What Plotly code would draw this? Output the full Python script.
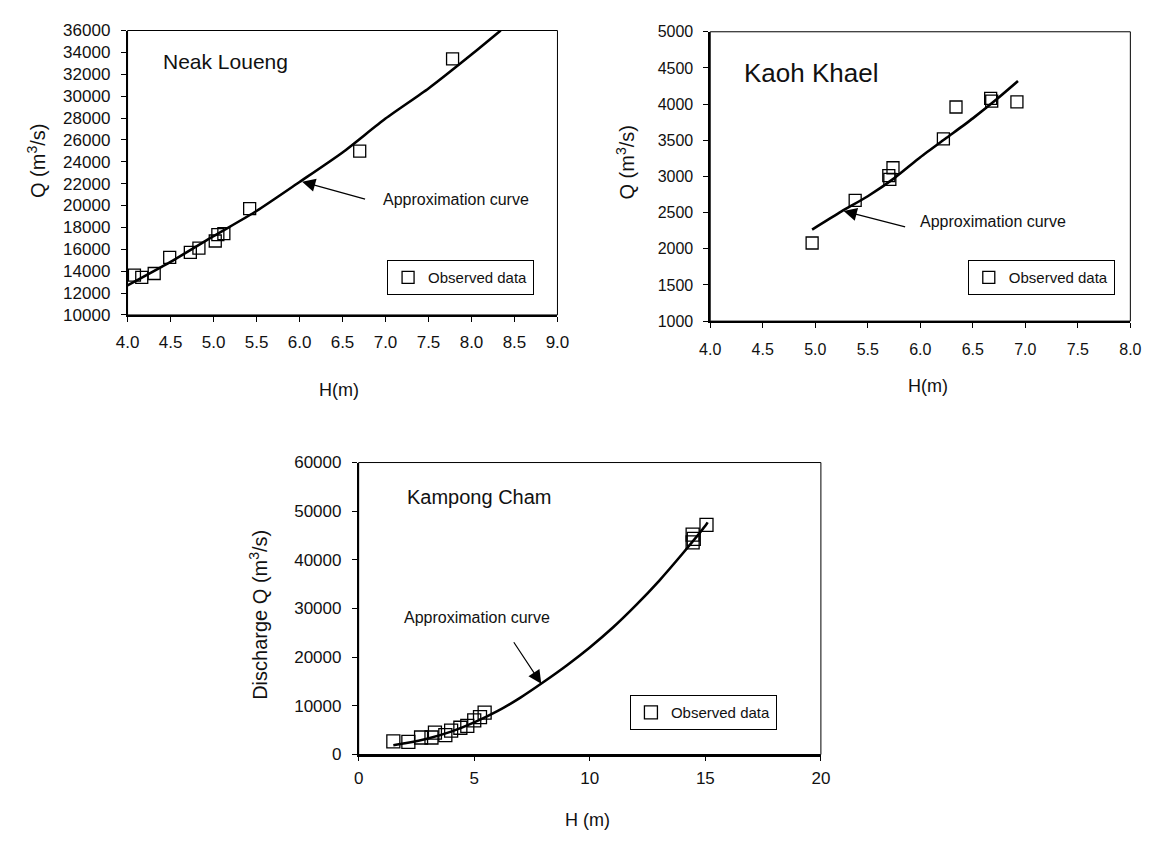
import plotly.graph_objects as go

W, H = 1159, 843

# ---------------- data ----------------
# Neak Loueng
nl_obs_h = [4.08, 4.165, 4.31, 4.49, 4.73, 4.83, 5.02, 5.05, 5.12, 5.42, 6.70, 7.78]
nl_obs_q = [13640, 13440, 13790, 15270, 15720, 16100, 16760, 17350, 17440, 19710, 24980, 33400]
nl_fit_h = [4.0, 4.5, 5.0, 5.5, 6.0, 6.5, 7.0, 7.5, 8.0, 8.34]
nl_fit_q = [12700, 14850, 17200, 19500, 22150, 24850, 27950, 30700, 33800, 36000]

# Kaoh Khael
kk_obs_h = [4.97, 5.38, 5.70, 5.71, 5.74, 6.22, 6.34, 6.67, 6.68, 6.92]
kk_obs_q = [2080, 2670, 3010, 2960, 3120, 3520, 3960, 4080, 4040, 4030]
kk_fit_h = [4.97, 5.25, 5.5, 5.75, 6.0, 6.25, 6.5, 6.75, 6.93]
kk_fit_q = [2265, 2516, 2726, 2973, 3265, 3534, 3803, 4094, 4318]

# Kampong Cham
kc_obs_h = [1.5, 2.15, 2.7, 3.15, 3.3, 3.75, 4.0, 4.4, 4.7, 5.0, 5.25, 5.45, 14.45, 14.45, 14.5, 15.05]
kc_obs_q = [2700, 2600, 3500, 3500, 4500, 4000, 4900, 5500, 5900, 7000, 7700, 8600, 45200, 43600, 44300, 47200]
kc_fit_h = [1.5, 2, 3, 4, 5, 6, 7, 8, 9, 10, 11, 12, 13, 14, 15, 15.1]
kc_fit_q = [1900, 2300, 3300, 4700, 6600, 8900, 11700, 14900, 18300, 22000, 26100, 30700, 35700, 41200, 47000, 47700]

legend_label = "Observed data"
curve_label = "Approximation curve"

# ---------------- figure ----------------
def px_x(p):
    return p / W

def px_y(p):
    return 1 - p / H

TXT = "#111111"
FONT = "Liberation Sans"

fig = go.Figure()

def add_panel(oh, oq, fh, fq, xa, ya, leg, msize):
    fig.add_trace(go.Scatter(x=fh, y=fq, mode="lines", xaxis=xa, yaxis=ya,
                             line=dict(color="black", width=2.6, shape="spline", smoothing=0.6),
                             showlegend=False, hoverinfo="skip"))
    fig.add_trace(go.Scatter(x=oh, y=oq, mode="markers", xaxis=xa, yaxis=ya,
                             name=legend_label, legend=leg,
                             marker=dict(symbol="square-open", size=msize,
                                         color="black", line=dict(width=1.3, color="black"))))

add_panel(nl_obs_h, nl_obs_q, nl_fit_h, nl_fit_q, "x", "y", "legend", 12)
add_panel(kk_obs_h, kk_obs_q, kk_fit_h, kk_fit_q, "x2", "y2", "legend2", 12)
add_panel(kc_obs_h, kc_obs_q, kc_fit_h, kc_fit_q, "x3", "y3", "legend3", 13)

def axis(dom, rng, dtick, fmt, anchor, size, standoff):
    return dict(domain=dom, range=rng, dtick=dtick, tick0=rng[0], tickformat=fmt,
                anchor=anchor, showgrid=False, zeroline=False,
                showline=True, linecolor="black", linewidth=1.6,
                ticks="outside", ticklen=5, tickcolor="black", tickwidth=1,
                ticklabelstandoff=standoff,
                tickfont=dict(family=FONT, size=size, color=TXT))

fig.update_layout(
    width=W, height=H,
    margin=dict(l=0, r=0, t=0, b=0),
    paper_bgcolor="white", plot_bgcolor="white",
    xaxis=axis([px_x(118), px_x(557)], [4, 9], 0.5, ".1f", "y", 17, 6),
    yaxis=axis([px_y(313), px_y(22)], [10000, 36000], 2000, "d", "x", 17, 7),
    xaxis2=axis([px_x(713), px_x(1142)], [4, 8], 0.5, ".1f", "y2", 16, 8),
    yaxis2=axis([px_y(319.3), px_y(23.3)], [1000, 5000], 500, "d", "x2", 16, 7),
    xaxis3=axis([px_x(354), px_x(826)], [0, 20], 5, "d", "y3", 17, 2),
    yaxis3=axis([px_y(762.7), px_y(464)], [0, 60000], 10000, "d", "x3", 17, 7),
)

def legend_cfg(x, y):
    return dict(x=px_x(x), y=px_y(y), xanchor="left", yanchor="top",
                bordercolor="black", borderwidth=1, bgcolor="white",
                font=dict(family=FONT, size=15, color=TXT), itemwidth=30,
                tracegroupgap=0)

fig.update_layout(legend=legend_cfg(383, 257),
                  legend2=legend_cfg(976, 257),
                  legend3=legend_cfg(631, 702))

# thin box around each plot area
for xr, yr in [("x", "y"), ("x2", "y2"), ("x3", "y3")]:
    fig.add_shape(type="rect", xref=f"{xr} domain", yref=f"{yr} domain",
                  x0=0, x1=1, y0=0, y1=1, line=dict(color="black", width=1), layer="above")

ann = []
# panel titles
ann.append(dict(x=4.39, y=33170, xref="x", yref="y", text="Neak Loueng", showarrow=False,
                xanchor="left", yanchor="middle", font=dict(family=FONT, size=21, color=TXT)))
ann.append(dict(x=4.30, y=4430, xref="x2", yref="y2", text="Kaoh Khael", showarrow=False,
                xanchor="left", yanchor="middle", font=dict(family=FONT, size=26, color=TXT)))
ann.append(dict(x=2.02, y=52970, xref="x3", yref="y3", text="Kampong Cham", showarrow=False,
                xanchor="left", yanchor="middle", font=dict(family=FONT, size=20, color=TXT)))

# arrows
arrow_style = dict(showarrow=True, arrowhead=2, arrowsize=2.2, arrowwidth=1.2,
                   arrowcolor="black", text="")
ann.append(dict(x=6.03, y=22180, ax=6.78, ay=20545, xref="x", yref="y",
                axref="x", ayref="y", **arrow_style))
ann.append(dict(x=5.27, y=2522, ax=5.87, ay=2297, xref="x2", yref="y2",
                axref="x2", ayref="y2", **arrow_style))
ann.append(dict(x=7.9, y=14560, ax=6.67, ay=23380, xref="x3", yref="y3",
                axref="x3", ayref="y3", **arrow_style))

# arrow labels
ann.append(dict(x=6.95, y=20545, xref="x", yref="y", text=curve_label, showarrow=False,
                xanchor="left", yanchor="middle", font=dict(family=FONT, size=16, color=TXT)))
ann.append(dict(x=5.98, y=2378, xref="x2", yref="y2", text=curve_label, showarrow=False,
                xanchor="left", yanchor="middle", font=dict(family=FONT, size=16, color=TXT)))
ann.append(dict(x=5.13, y=28060, xref="x3", yref="y3", text=curve_label, showarrow=False,
                xanchor="center", yanchor="middle", font=dict(family=FONT, size=16, color=TXT)))

# axis titles
def title_ann(xp, yp, text, angle=0, size=18):
    return dict(x=px_x(xp), y=px_y(yp), xref="paper", yref="paper", text=text,
                textangle=angle, showarrow=False, xanchor="center", yanchor="middle",
                font=dict(family=FONT, size=size, color=TXT))

ann.append(title_ann(25, 155, "Q (m<sup>3</sup>/s)", -90, 20))
ann.append(title_ann(626, 157, "Q (m<sup>3</sup>/s)", -90, 20))
ann.append(title_ann(251, 620, "Discharge Q (m<sup>3</sup>/s)", -90, 20))
ann.append(title_ann(334, 390, "H(m)"))
ann.append(title_ann(935, 386, "H(m)"))
ann.append(title_ann(588, 830, "H (m)"))

fig.update_layout(annotations=ann)

fig.write_html("out.html")
